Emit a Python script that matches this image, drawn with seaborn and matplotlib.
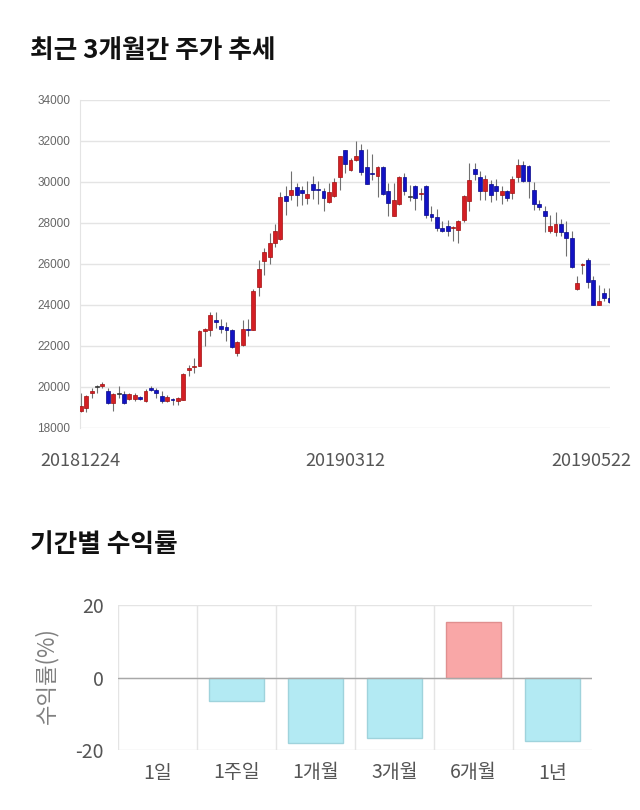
import matplotlib
matplotlib.use("Agg")
import matplotlib.pyplot as plt
import matplotlib.transforms as mtransforms
import numpy as np
import pandas as pd
import seaborn as sns

# ---------------- data ----------------
opens = [18810, 18980, 19710, 20000, 20060, 19820, 19220, 19680, 19680, 19415,
         19415, 19510, 19300, 19950, 19870, 19577, 19300, 19400, 19300, 19382,
         20846, 20976, 21040, 22715, 22797, 23285, 22992, 22927, 22797, 21659,
         22065, 22830, 22797, 24862, 26130, 26325, 27024, 27219, 29333, 29349,
         29756, 29626, 29219, 29919, 29640, 29577, 29008, 29301, 30228, 31545,
         30602, 31089, 31545, 30732, 30420, 30309, 30732, 29577, 28325, 28927,
         30244, 29268, 29789, 29398, 29821, 28439, 28293, 27756, 27837, 27740,
         27675, 28130, 29057, 30634, 30228, 29545, 29919, 29789, 29382, 29577,
         29463, 30228, 30845, 30797, 29626, 28927, 28569, 27626, 27561, 27967,
         27545, 27268, 24780, 25950, 26179, 25236, 24000, 24585, 24341]
highs = [19710, 19630, 19950, 20110, 20230, 19950, 19710, 20060, 19790, 19707,
         19707, 19577, 19902, 20033, 19951, 19789, 19626, 19463, 19512, 20683,
         21089, 21414, 22764, 22878, 23642, 23642, 23300, 23154, 22830, 22228,
         23252, 23317, 24780, 26211, 26780, 27512, 27951, 29496, 29789, 30553,
         29951, 29821, 30032, 30309, 30032, 29707, 29951, 30195, 31284, 31577,
         31150, 32016, 31854, 31610, 31382, 30764, 30764, 29951, 29951, 30309,
         30439, 29870, 29870, 29707, 29870, 28813, 28683, 28081, 28130, 27870,
         28163, 29382, 30927, 30927, 30520, 30358, 30081, 30162, 29821, 29626,
         30276, 31122, 31008, 30845, 29984, 29138, 28813, 28406, 28520, 28195,
         28081, 27594, 25431, 26049, 26293, 25400, 24992, 24829, 24829]
lows = [18760, 18760, 19460, 19710, 19950, 19190, 18810, 19460, 19187, 19382,
        19300, 19350, 19252, 19789, 19463, 19220, 19252, 19138, 19138, 19350,
        20520, 20683, 21008, 21984, 22472, 22878, 22634, 22228, 21900, 21496,
        21984, 22504, 22764, 24455, 25480, 26000, 26829, 27187, 28406, 29138,
        28813, 28894, 28943, 29171, 28943, 28569, 28976, 29268, 29626, 30439,
        30520, 31008, 30358, 29919, 30114, 29268, 29380, 28325, 28325, 28880,
        29382, 29057, 28650, 29138, 28244, 28081, 27593, 27545, 27382, 27106,
        27024, 28033, 28569, 30114, 29138, 29138, 29008, 29138, 28943, 29057,
        29171, 29984, 29984, 29219, 28618, 28650, 27545, 27512, 27350, 27350,
        26374, 25805, 24748, 25528, 24829, 24000, 24000, 24179, 24098]
closes = [19090, 19580, 19820, 20000, 20150, 19220, 19680, 19680, 19220, 19675,
          19626, 19415, 19821, 19870, 19707, 19300, 19512, 19380, 19463, 20650,
          20927, 21040, 22715, 22829, 23528, 23171, 22829, 22797, 21935, 22179,
          22829, 22797, 24699, 25772, 26569, 27024, 27626, 29268, 29057, 29626,
          29350, 29463, 29431, 29594, 29626, 29219, 29512, 29984, 31268, 30878,
          31089, 31284, 30471, 29919, 30370, 30732, 29415, 28976, 29138, 30244,
          29545, 29268, 29219, 29463, 28406, 28276, 27756, 27626, 27626, 27780,
          28114, 29333, 30081, 30390, 29545, 30162, 29382, 29577, 29577, 29219,
          30162, 30845, 30032, 30032, 28927, 28764, 28325, 27837, 27967, 27545,
          27268, 25854, 25073, 25980, 25122, 24000, 24179, 24325, 24130]
date_ticks = [0, 49, 98]
date_labels = ["20181224", "20190312", "20190522"]
price_ticks = [18000, 20000, 22000, 24000, 26000, 28000, 30000, 32000, 34000]

periods = ["1일", "1주일", "1개월", "3개월", "6개월", "1년"]
returns = [0.0, -6.6, -18.1, -16.7, 15.3, -17.5]

# ---------------- style ----------------
sns.set_style("white")
plt.rcParams["font.family"] = ["Noto Sans CJK KR", "DejaVu Sans"]

fig = plt.figure(figsize=(6.4, 8.1), dpi=100)
W, H = 640, 810

def box(l, t, r, b):
    return [l / W, 1 - b / H, (r - l) / W, (b - t) / H]

GRID = "#e4e4e4"

# ---------------- candlestick chart ----------------
ax1 = fig.add_axes(box(80, 100, 610, 428))
o = np.array(opens, float)
c = np.array(closes, float)
hi = np.array(highs, float)
lo = np.array(lows, float)
x = np.arange(len(o))
up_col, dn_col, flat_col = "#d41e24", "#1212c4", "#444444"
cols = [up_col if cc > oo else (dn_col if cc < oo else flat_col) for oo, cc in zip(o, c)]
edge = ["#a01010" if cc > oo else ("#08088a" if cc < oo else "#333333") for oo, cc in zip(o, c)]
ax1.vlines(x, lo, hi, color="#707070", lw=0.8, zorder=2)
bottoms = np.minimum(o, c)
heights = np.maximum(np.abs(c - o), 45)
ax1.bar(x, heights, bottom=bottoms, width=0.72, color=cols, edgecolor=edge,
        linewidth=0.5, zorder=3)

ax1.set_xlim(-0.15, 98.1)
ax1.set_ylim(18000, 34000)
ax1.set_yticks(price_ticks)
ax1.set_yticklabels([str(t) for t in price_ticks], family="Liberation Sans")
ax1.set_xticks(date_ticks)
ax1.set_xticklabels(date_labels)
ax1.grid(axis="y", color=GRID, lw=1)
ax1.set_axisbelow(True)
for s in ["top", "right", "bottom"]:
    ax1.spines[s].set_visible(False)
ax1.spines["left"].set_color(GRID)
ax1.tick_params(axis="y", length=5, color=GRID, width=1, labelsize=8.5,
                labelcolor="#666666", pad=2)
ax1.tick_params(axis="x", length=0, labelsize=13, labelcolor="#555555", pad=17)
lbls = ax1.get_xticklabels()
lbls[-1].set_transform(lbls[-1].get_transform() +
                       mtransforms.ScaledTranslation(-18 / 100, 0, fig.dpi_scale_trans))

# ---------------- returns bar chart ----------------
ax2 = fig.add_axes(box(118, 605, 592, 750))
df = pd.DataFrame({"period": periods, "ret": returns})
pal = {p: ("#f9a7a7" if v > 0 else "#b3eaf3") for p, v in zip(periods, returns)}
sns.barplot(data=df, x="period", y="ret", hue="period", palette=pal, legend=False,
            width=0.7, ax=ax2, zorder=3, saturation=1)
for p, v in zip(ax2.patches, returns):
    p.set_edgecolor("#e08f8f" if v > 0 else "#9fd3dc")
    p.set_linewidth(1 if v != 0 else 0)

ax2.set_xlim(-0.5, 5.5)
ax2.set_ylim(-20, 20)
ax2.set_yticks([-20, 0, 20])
ax2.set_yticklabels(["-20", "0", "20"])
ax2.set_xlabel("")
ax2.set_ylabel("")
ax2.set_xticks(np.arange(-0.5, 5.0, 1.0), minor=True)
ax2.grid(axis="y", which="major", color=GRID, lw=1)
ax2.grid(axis="x", which="minor", color=GRID, lw=1)
ax2.axhline(0, color="#a8a8a8", lw=1, zorder=4)
ax2.set_axisbelow(True)
for s in ax2.spines.values():
    s.set_visible(False)
ax2.tick_params(axis="y", length=7, color=GRID, labelsize=14, labelcolor="#555555", pad=3)
ax2.tick_params(axis="x", which="major", length=0, labelsize=14, labelcolor="#555555", pad=9)
ax2.tick_params(axis="x", which="minor", length=8, color=GRID, width=1)

fig.text(46 / W, 1 - 676 / H, "수익률(%)", rotation=90, ha="center", va="center",
         fontsize=16, color="#808080")

# ---------------- titles ----------------
fig.text(30 / W, 1 - 51 / H, "최근 3개월간 주가 추세", ha="left", va="center",
         fontsize=18.5, fontweight="bold", color="#111111")
fig.text(30 / W, 1 - 544 / H, "기간별 수익률", ha="left", va="center",
         fontsize=18.5, fontweight="bold", color="#111111")

fig.savefig("out.png", dpi=100)
